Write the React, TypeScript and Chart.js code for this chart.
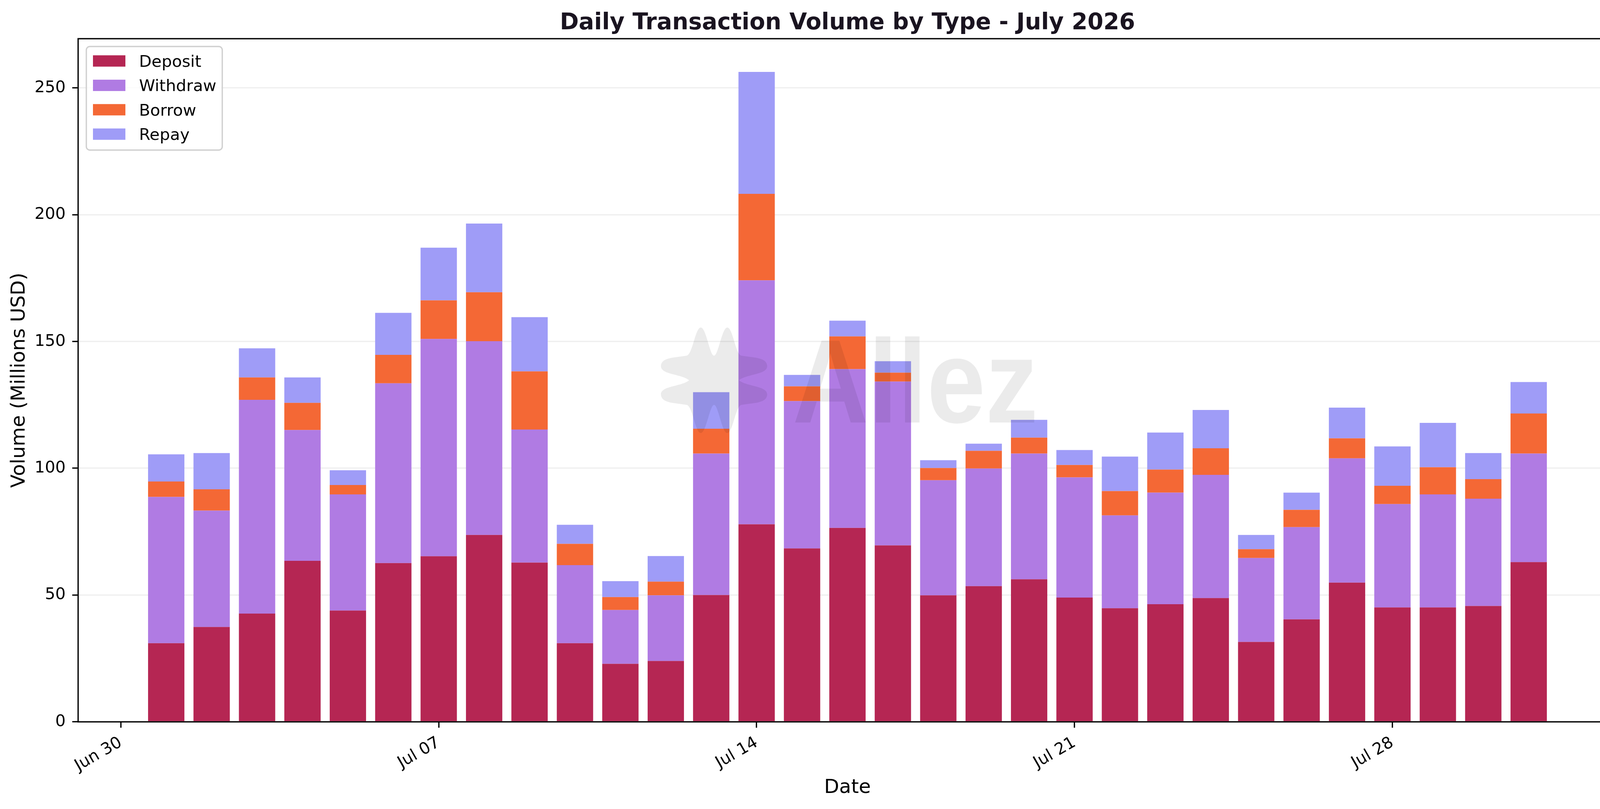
import { useEffect, useRef } from 'react';
import { Chart, registerables } from 'chart.js';

Chart.register(...registerables);

// Day offsets from Jun 30 (1 = Jul 01 ... 31 = Jul 31)
const DAYS: number[] = [1, 2, 3, 4, 5, 6, 7, 8, 9, 10, 11, 12, 13, 14, 15, 16, 17, 18, 19, 20, 21, 22, 23, 24, 25, 26, 27, 28, 29, 30, 31];
const X_TICK_VALUES: number[] = [0, 7, 14, 21, 28];
const X_TICK_LABELS: string[] = ['Jun 30', 'Jul 07', 'Jul 14', 'Jul 21', 'Jul 28'];
const Y_TICKS: number[] = [0, 50, 100, 150, 200, 250];
const SERIES_LABELS: string[] = ['Deposit', 'Withdraw', 'Borrow', 'Repay'];
const SERIES_COLORS: string[] = ['#B52653', '#B07BE3', '#F46835', '#9F9CF7'];

const DEPOSIT: number[] = [31.0, 37.4, 42.7, 63.5, 43.9, 62.6, 65.3, 73.7, 62.8, 31.0, 22.9, 24.0, 50.0, 77.9, 68.4, 76.5, 69.6, 49.9, 53.5, 56.2, 49.0, 44.8, 46.4, 48.8, 31.5, 40.4, 54.9, 45.1, 45.1, 45.7, 63.0];
const WITHDRAW: number[] = [57.7, 45.9, 84.3, 51.6, 45.8, 70.9, 85.7, 76.4, 52.5, 30.8, 21.2, 25.9, 55.8, 96.2, 58.1, 62.6, 64.6, 45.4, 46.4, 49.6, 47.4, 36.6, 44.0, 48.6, 33.1, 36.4, 49.0, 40.8, 44.6, 42.3, 42.8];
const BORROW: number[] = [6.1, 8.4, 8.8, 10.7, 3.7, 11.2, 15.2, 19.3, 22.9, 8.4, 5.1, 5.4, 9.8, 34.1, 5.8, 12.9, 3.5, 4.8, 7.0, 6.3, 4.9, 9.6, 9.1, 10.5, 3.5, 6.8, 7.9, 7.2, 10.7, 7.7, 15.8];
const REPAY: number[] = [10.7, 14.3, 11.5, 10.0, 5.8, 16.6, 20.8, 27.1, 21.4, 7.5, 6.3, 10.1, 14.4, 48.1, 4.5, 6.2, 4.5, 3.1, 2.8, 7.0, 5.9, 13.6, 14.6, 15.1, 5.6, 6.8, 12.1, 15.5, 17.5, 10.3, 12.4];

const TITLE = 'Daily Transaction Volume by Type - July 2026';
const FONT = 'DejaVu Sans';
const PT = 300 / 72;

const W = 4170;
const H = 2070;

// One quadrant (top-left) of the watermark logo outline, as cubic segments
// [cp1x, cp1y, cp2x, cp2y, endX, endY], starting at LOGO_START.
const LOGO_START: number[] = [0, -63];
const LOGO_QUADRANT: number[][] = [
  [-11, -63, -20, -135, -34, -135],
  [-48, -135, -55, -66, -70, -63],
  [-96, -58, -136, -60, -136, -36],
  [-136, -14, -82, -16, -64, 0],
];

function traceLogo(ctx: CanvasRenderingContext2D, cx: number, cy: number) {
  const quad = (forward: boolean, fx: number, fy: number) => {
    if (forward) {
      LOGO_QUADRANT.forEach((s) => {
        ctx.bezierCurveTo(cx + s[0] * fx, cy + s[1] * fy, cx + s[2] * fx, cy + s[3] * fy, cx + s[4] * fx, cy + s[5] * fy);
      });
    } else {
      for (let i = LOGO_QUADRANT.length - 1; i >= 0; i--) {
        const s = LOGO_QUADRANT[i];
        const start = i === 0 ? LOGO_START : [LOGO_QUADRANT[i - 1][4], LOGO_QUADRANT[i - 1][5]];
        ctx.bezierCurveTo(cx + s[2] * fx, cy + s[3] * fy, cx + s[0] * fx, cy + s[1] * fy, cx + start[0] * fx, cy + start[1] * fy);
      }
    }
  };
  ctx.beginPath();
  ctx.moveTo(cx + LOGO_START[0], cy + LOGO_START[1]);
  quad(true, 1, 1);
  quad(false, 1, -1);
  quad(true, -1, -1);
  quad(false, -1, 1);
  ctx.closePath();
}

const overlayPlugin = {
  id: 'overlay',
  afterDraw(chart: any) {
    const { ctx, chartArea } = chart;
    const { left, right, top, bottom } = chartArea;
    ctx.save();

    // Watermark (logo + text), drawn over the bars
    const cx = left + (right - left) * 0.4133;
    const cy = top + (bottom - top) * 0.5;
    ctx.fillStyle = 'rgba(0,0,0,0.08)';
    traceLogo(ctx, cx, cy);
    ctx.fill('nonzero');

    ctx.font = `bold 304px "Liberation Sans", Arial, sans-serif`;
    ctx.textAlign = 'left';
    ctx.textBaseline = 'alphabetic';
    const m = ctx.measureText('Allez');
    const inkW = m.actualBoundingBoxLeft + m.actualBoundingBoxRight;
    const sx = 616 / inkW;
    const tx = cx + 205;
    const ty = cy + 108;
    ctx.save();
    ctx.translate(tx, ty);
    ctx.scale(sx, 1);
    ctx.fillText('Allez', m.actualBoundingBoxLeft, 0);
    ctx.restore();

    // Axes frame (all four spines)
    ctx.strokeStyle = '#000000';
    ctx.lineWidth = 0.8 * PT;
    ctx.strokeRect(left, top, right - left, bottom - top);

    // Legend
    const fs = 10 * PT;
    const lx = left + 21;
    const ly = top + 20;
    const lw = 348;
    const lh = 265;
    ctx.beginPath();
    ctx.roundRect(lx, ly, lw, lh, 9);
    ctx.fillStyle = 'rgba(255,255,255,0.8)';
    ctx.fill();
    ctx.strokeStyle = '#d0d0d0';
    ctx.lineWidth = 3.4;
    ctx.stroke();
    ctx.font = `${fs}px "${FONT}"`;
    ctx.textAlign = 'left';
    ctx.textBaseline = 'alphabetic';
    chart.data.datasets.forEach((ds: any, i: number) => {
      const rowY = ly + 37 + i * 62.4;
      ctx.fillStyle = ds.backgroundColor;
      ctx.fillRect(lx + 17, rowY - 14.5, 83, 29);
      ctx.fillStyle = '#000000';
      ctx.fillText(ds.label, lx + 135, rowY + 15);
    });

    // Title
    ctx.font = `bold ${14 * PT}px "${FONT}"`;
    ctx.fillStyle = '#1a1420';
    ctx.textAlign = 'center';
    ctx.textBaseline = 'alphabetic';
    ctx.fillText(TITLE, (left + right) / 2, 75);

    ctx.restore();
  },
};

export default function App() {
  const ref = useRef<HTMLCanvasElement | null>(null);

  useEffect(() => {
    document.body.style.margin = '0';
    const canvas = ref.current;
    if (!canvas) return;
    const seriesValues = [DEPOSIT, WITHDRAW, BORROW, REPAY];
    const tickFont = { family: FONT, size: 10 * PT };
    const chart = new Chart(canvas, {
      type: 'bar',
      data: {
        datasets: SERIES_LABELS.map((label, i) => ({
          label,
          data: seriesValues[i].map((v, j) => ({ x: DAYS[j], y: v })),
          backgroundColor: SERIES_COLORS[i],
          borderWidth: 0,
          categoryPercentage: 1.0,
          barPercentage: 0.8,
        })),
      },
      options: {
        responsive: false,
        animation: false,
        devicePixelRatio: 1,
        events: [],
        layout: { padding: { top: 99, right: 31, left: 0, bottom: 0 } },
        plugins: {
          legend: { display: false },
          title: { display: false },
          tooltip: { enabled: false },
        },
        scales: {
          x: {
            type: 'linear',
            stacked: true,
            offset: false,
            min: -0.94,
            max: 32.94,
            afterBuildTicks: (scale: any) => {
              scale.ticks = X_TICK_VALUES.map((v) => ({ value: v }));
            },
            afterFit: (scale: any) => {
              scale.height = 223;
            },
            ticks: {
              autoSkip: false,
              minRotation: 30,
              maxRotation: 30,
              padding: 14,
              color: '#000000',
              font: tickFont,
              callback: (value: any) => {
                const idx = X_TICK_VALUES.indexOf(Number(value));
                return idx >= 0 ? X_TICK_LABELS[idx] : '';
              },
            },
            grid: {
              display: true,
              offset: false,
              drawOnChartArea: false,
              drawTicks: true,
              tickLength: 15,
              tickColor: '#000000',
              tickWidth: 0.8 * PT,
            },
            border: { display: false },
            title: {
              display: true,
              text: 'Date',
              color: '#000000',
              font: { family: FONT, size: 12 * PT },
              padding: { top: 0, bottom: 24 },
            },
          },
          y: {
            type: 'linear',
            stacked: true,
            min: 0,
            max: 269.4,
            z: 1,
            afterBuildTicks: (scale: any) => {
              scale.ticks = Y_TICKS.map((v) => ({ value: v }));
            },
            afterFit: (scale: any) => {
              scale.width = 200;
            },
            ticks: {
              padding: 17,
              color: '#000000',
              font: tickFont,
              callback: (value: any) => String(value),
            },
            grid: {
              display: true,
              drawOnChartArea: true,
              color: 'rgba(176,176,176,0.2)',
              lineWidth: 0.8 * PT,
              drawTicks: true,
              tickLength: 15,
              tickColor: '#000000',
              tickWidth: 0.8 * PT,
            },
            border: { display: false },
            title: {
              display: true,
              text: 'Volume (Millions USD)',
              color: '#000000',
              font: { family: FONT, size: 12 * PT },
              padding: { top: 20, bottom: 0 },
            },
          },
        },
      },
      plugins: [overlayPlugin],
    } as any);
    return () => chart.destroy();
  }, []);

  return (
    <canvas
      ref={ref}
      width={W}
      height={H}
      style={{ display: 'block', width: `${W}px`, height: `${H}px` }}
    />
  );
}
